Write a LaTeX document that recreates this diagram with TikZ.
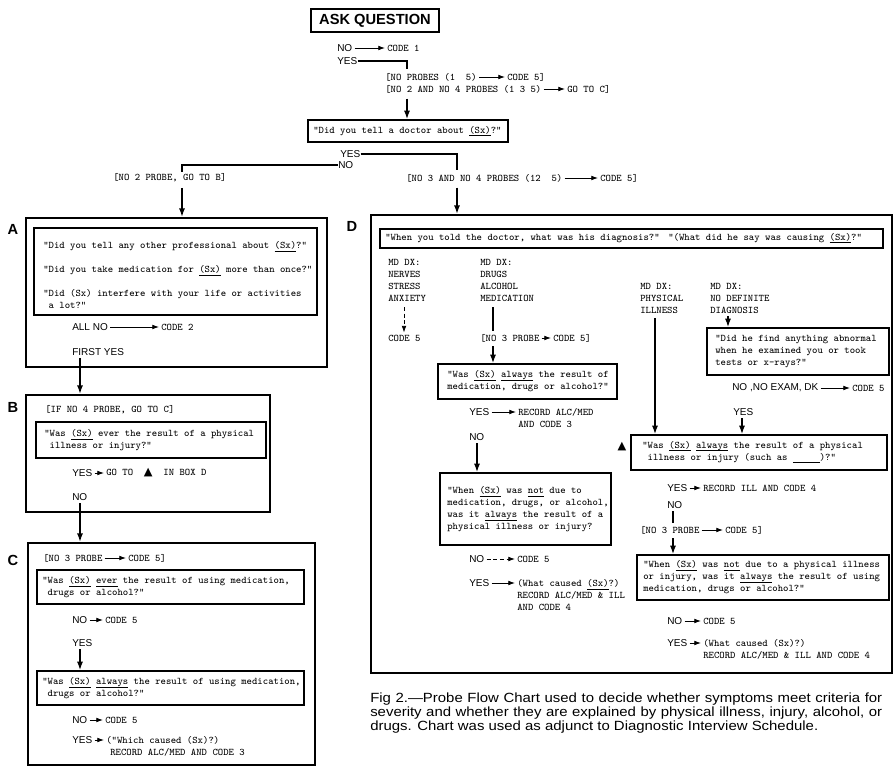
\documentclass[tikz,border=0pt]{standalone}
\usepackage{fontspec}
\usetikzlibrary{arrows.meta,fit}
\newfontfamily\lblfont{Liberation Sans}
\newfontfamily\capfont[FakeStretch=1.12]{Liberation Sans}
\newfontfamily\symfont{DejaVu Sans}
\newcommand{\twr}{\fontsize{7.6}{9}\selectfont\ttfamily}
\newcommand{\lbf}{\fontsize{7.5}{9}\selectfont\lblfont}
\newcommand{\und}[1]{\leavevmode\setbox0=\hbox{#1}\rlap{\rule[-2.2pt]{\wd0}{0.5pt}}\box0\relax}
\newcommand{\tri}{{\symfont\fontsize{8.5}{9}\selectfont ▲}}
\tikzset{
  tw/.style={font=\twr, inner sep=0pt, anchor=west, align=left},
  lb/.style={font=\lbf, inner sep=0pt, anchor=west},
  qbox/.style={draw, line width=0.9pt, inner sep=0pt},
  obox/.style={draw, line width=1.3pt, inner sep=0pt},
  boxlab/.style={font=\fontsize{11}{11}\selectfont\lblfont\bfseries, inner sep=0pt},
  tarr/.style={-{Latex[length=5pt,width=3.5pt]}, line width=0.6pt, shorten <=1.5pt, shorten >=1.5pt},
  varr/.style={-{Latex[length=6.5pt,width=4.5pt]}, line width=1.4pt},
  hook/.style={line width=1.4pt}
}
\begin{document}
\begin{tikzpicture}[x=0.75pt,y=-0.75pt]
\useasboundingbox (0,0) rectangle (894,771);
% entry question
\node[obox, fit={(311,9)(439,32)}] (ask) {};
\node[boxlab] (askt) at (ask.center) {ASK QUESTION};
\node[lb] (no1) at (337,48) {NO};
\node[tw] (code1) at (387,48) {CODE 1};
\draw[tarr] (no1.east) -- (code1.west);
\node[lb] (yes1) at (337,61) {YES};
\coordinate (yh1) at (407,69);
\draw[hook] (yes1.east) -| (yh1);
\node[tw] (np1) at (385,77) {[NO PROBES (1~~5)};
\node[tw] (c5a) at (507,77) {CODE 5]};
\draw[tarr] (np1.east) -- (c5a.west);
\node[tw] (np2) at (385,89) {[NO 2 AND NO 4 PROBES (1 3 5)};
\node[tw] (gtc) at (567,89) {GO TO C]};
\draw[tarr] (np2.east) -- (gtc.west);
\node[qbox, fit={(308,120)(508,142)}] (doc) {};
\node[tw] (doct) at (313,131) {"Did you tell a doctor about \und{(Sx)}?"};
\draw[varr, shorten <=4pt] (yh1 |- np2.south) -- (yh1 |- doc.north);

\node[lb] (yes2) at (340,154) {YES};
\node[lb] (no2) at (338,165) {NO};
\coordinate (yh2) at (457,170);
\coordinate (nh2) at (182,172);
\draw[hook] (yes2.east) -| (yh2);
\draw[hook] (no2.west) -| (nh2);
\node[tw] (np3) at (113,178) {[NO 2 PROBE, GO TO B]};
\node[tw] (np4) at (406,178) {[NO 3 AND NO 4 PROBES (12~~5)};
\node[tw] (c5b) at (600,178) {CODE 5]};
\draw[tarr] (np4.east) -- (c5b.west);

% box A
\node[obox, fit={(26,218)(327,367)}] (boxA) {};
\node[boxlab] (labA) at (13,229) {A};
\draw[varr, shorten <=4pt] (nh2 |- np3.south) -- (nh2 |- boxA.north);
\node[qbox, fit={(34,228)(317,315)}] (qA) {};
\node[tw] (qAt) at (43,275) {"Did you tell any other professional about \und{(Sx)}?"\\[9pt]
  "Did you take medication for \und{(Sx)} more than once?"\\[9pt]
  "Did (Sx) interfere with your life or activities\\\ a lot?"};
\node[lb] (allno) at (72,327) {ALL NO};
\node[tw] (code2) at (161,327) {CODE 2};
\draw[tarr] (allno.east) -- (code2.west);
\node[lb] (fyes) at (72,352) {FIRST YES};
\coordinate (tAB) at (80,358);

% box B
\node[obox, fit={(26,395)(270,512)}] (boxB) {};
\node[boxlab] (labB) at (13,407) {B};
\draw[varr] (tAB) -- (tAB |- boxB.north);
\node[tw] (ifno4) at (45,410) {[IF NO 4 PROBE, GO TO C]};
\node[qbox, fit={(36,422)(266,458)}] (qB) {};
\node[tw] (qBt) at (44,440) {"Was \und{(Sx)} ever the result of a physical\\\ illness or injury?"};
\node[lb] (yesB) at (72,473) {YES};
\node[tw] (gotoB) at (106,473) {GO TO~~\tri~~IN BOX D};
\draw[tarr] (yesB.east) -- (gotoB.west);
\node[lb] (noB) at (72,497) {NO};
\coordinate (tBC) at (80,503);

% box C
\node[obox, fit={(28,543)(315,765)}] (boxC) {};
\node[boxlab] (labC) at (13,560) {C};
\draw[varr] (tBC) -- (tBC |- boxC.north);
\node[tw] (np5) at (43,558) {[NO 3 PROBE};
\node[tw] (c5c) at (128,558) {CODE 5]};
\draw[tarr] (np5.east) -- (c5c.west);
\node[qbox, fit={(37,570)(304,604)}] (qC1) {};
\node[tw] (qC1t) at (42,587) {"Was \und{(Sx)} \und{ever} the result of using medication,\\\ drugs or alcohol?"};
\node[lb] (noC1) at (72,620) {NO};
\node[tw] (c5c1) at (105,620) {CODE 5};
\draw[tarr] (noC1.east) -- (c5c1.west);
\node[lb] (yesC1) at (72,643) {YES};
\coordinate (tC) at (80,649);
\node[qbox, fit={(37,671)(304,705)}] (qC2) {};
\node[tw] (qC2t) at (42,688) {"Was \und{(Sx)} \und{always} the result of using medication,\\\ drugs or alcohol?"};
\draw[varr] (tC) -- (tC |- qC2.north);
\node[lb] (noC2) at (72,720) {NO};
\node[tw] (c5c2) at (105,720) {CODE 5};
\draw[tarr] (noC2.east) -- (c5c2.west);
\node[lb] (yesC2) at (72,740) {YES};
\node[tw] (whC) at (106,740) {("Which caused (Sx)?)};
\node[tw] (recC) at (110,752) {RECORD ALC/MED AND CODE 3};
\draw[tarr] (yesC2.east) -- (whC.west);

% box D
\node[obox, fit={(371,215)(892,673)}] (boxD) {};
\node[boxlab] (labD) at (352,226) {D};
\draw[varr, shorten <=4pt] (yh2 |- np4.south) -- (yh2 |- boxD.north);
\node[qbox, fit={(380,229)(883,248)}] (hdr) {};
\node[tw] (hdr1) at (385,238) {"When you told the doctor, what was his diagnosis?"};
\node[tw] (hdr2) at (668,238) {"(What did he say was causing \und{(Sx)}?"};
\foreach \nm/\x/\y/\txt in {c1/388/280/{MD DX:\\NERVES\\STRESS\\ANXIETY},
    c2/480/280/{MD DX:\\DRUGS\\ALCOHOL\\MEDICATION},
    c3/640/298/{MD DX:\\PHYSICAL\\ILLNESS},
    c4/710/298/{MD DX:\\NO DEFINITE\\DIAGNOSIS}}
  \node[tw] (\nm) at (\x,\y) {\txt};
\node[tw] (c5d0) at (388,338) {CODE 5};
\coordinate (t1) at (404,307);
\draw[tarr, densely dashed, shorten <=0pt] (t1) -- (t1 |- c5d0.north);

\coordinate (t2) at (493,307);
\node[tw] (np6) at (480,338) {[NO 3 PROBE};
\node[tw] (c5d1) at (553,338) {CODE 5]};
\draw[tarr] (np6.east) -- (c5d1.west);
\draw[hook] (t2) -- ([yshift=2pt]t2 |- np6.north);
\node[qbox, fit={(438,364)(617,399)}] (qD1) {};
\node[tw] (qD1t) at (447,381) {"Was \und{(Sx)} \und{always} the result of\\medication, drugs or alcohol?"};
\draw[varr, shorten <=3pt] (t2 |- np6.south) -- (t2 |- qD1.north);
\node[lb] (yesD1) at (469,412) {YES};
\node[tw] (recD1) at (518,418) {RECORD ALC/MED\\AND CODE 3};
\draw[tarr] (yesD1.east) -- (yesD1.east -| recD1.west);
\node[lb] (noD1) at (469,437) {NO};
\coordinate (t3) at (477,443);
\node[qbox, fit={(440,473)(611,545)}] (qD2) {};
\node[tw] (qD2t) at (447,509) {"When \und{(Sx)} was \und{not} due to\\medication, drugs, or alcohol,\\was it \und{always} the result of a\\physical illness or injury?};
\draw[varr] (t3) -- (t3 |- qD2.north);
\node[lb] (noD2) at (469,559) {NO};
\node[tw] (c5d2) at (517,559) {CODE 5};
\draw[tarr, densely dashed] (noD2.east) -- (c5d2.west);
\node[lb] (yesD2) at (469,583) {YES};
\node[tw] (wcD1) at (517,595) {(What caused \und{(Sx)}?)\\RECORD ALC/MED \& ILL\\AND CODE 4};
\draw[tarr] (yesD2.east) -- (yesD2.east -| wcD1.west);

\coordinate (t4) at (728,316);
\node[qbox, fit={(707,328)(889,375)}] (qD3) {};
\node[tw] (qD3t) at (715,351) {"Did he find anything abnormal\\when he examined you or took\\tests or x-rays?"};
\draw[varr] (t4) -- (t4 |- qD3.north);
\node[lb] (noex) at (732,388) {NO ,NO EXAM, DK};
\node[tw] (c5d3) at (852,388) {CODE 5};
\draw[tarr] (noex.east) -- (c5d3.west);
\node[lb] (yesD3) at (733,412) {YES};
\coordinate (t5) at (742,418);
\coordinate (t6) at (655,318);
\node[qbox, fit={(631,435)(887,470)}] (qD4) {};
\node[tw] (qD4t) at (642,452) {"Was \und{(Sx)} \und{always} the result of a physical\\\ illness or injury (such as \und{\hphantom{xxxxx}})?"};
\node[inner sep=0pt] (tri) at (622,447) {\tri};
\draw[varr] (t5) -- (t5 |- qD4.north);
\draw[varr] (t6) -- (t6 |- qD4.north);
\node[lb] (yesD4) at (667,488) {YES};
\node[tw] (recill) at (703,488) {RECORD ILL AND CODE 4};
\draw[tarr] (yesD4.east) -- (recill.west);
\node[lb] (noD4) at (667,505) {NO};
\coordinate (t7) at (673,511);
\node[tw] (np7) at (640,530) {[NO 3 PROBE};
\node[tw] (c5d4) at (725,530) {CODE 5]};
\draw[tarr] (np7.east) -- (c5d4.west);
\draw[hook] (t7) -- ([yshift=2pt]t7 |- np7.north);
\node[qbox, fit={(637,555)(889,600)}] (qD5) {};
\node[tw] (qD5t) at (643,577) {"When \und{(Sx)} was \und{not} due to a physical illness\\or injury, was it \und{always} the result of using\\medication, drugs or alcohol?"};
\draw[varr, shorten <=3pt] (t7 |- np7.south) -- (t7 |- qD5.north);
\node[lb] (noD5) at (667,621) {NO};
\node[tw] (c5d5) at (703,621) {CODE 5};
\draw[tarr] (noD5.east) -- (c5d5.west);
\node[lb] (yesD5) at (667,643) {YES};
\node[tw] (wcD2) at (703,649) {(What caused (Sx)?)\\RECORD ALC/MED \& ILL AND CODE 4};
\draw[tarr] (yesD5.east) -- (yesD5.east -| wcD2.west);

% caption
\node[font=\fontsize{10}{10.5}\selectfont\capfont, anchor=north west, inner sep=0pt, text width=384pt, align=justify] (cap) at (370,693)
  {Fig 2.—Probe Flow Chart used to decide whether symptoms meet criteria for\linebreak
   severity and whether they are explained by physical illness, injury, alcohol, or\linebreak
   drugs. Chart was used as adjunct to Diagnostic Interview Schedule.};
\end{tikzpicture}
\end{document}
